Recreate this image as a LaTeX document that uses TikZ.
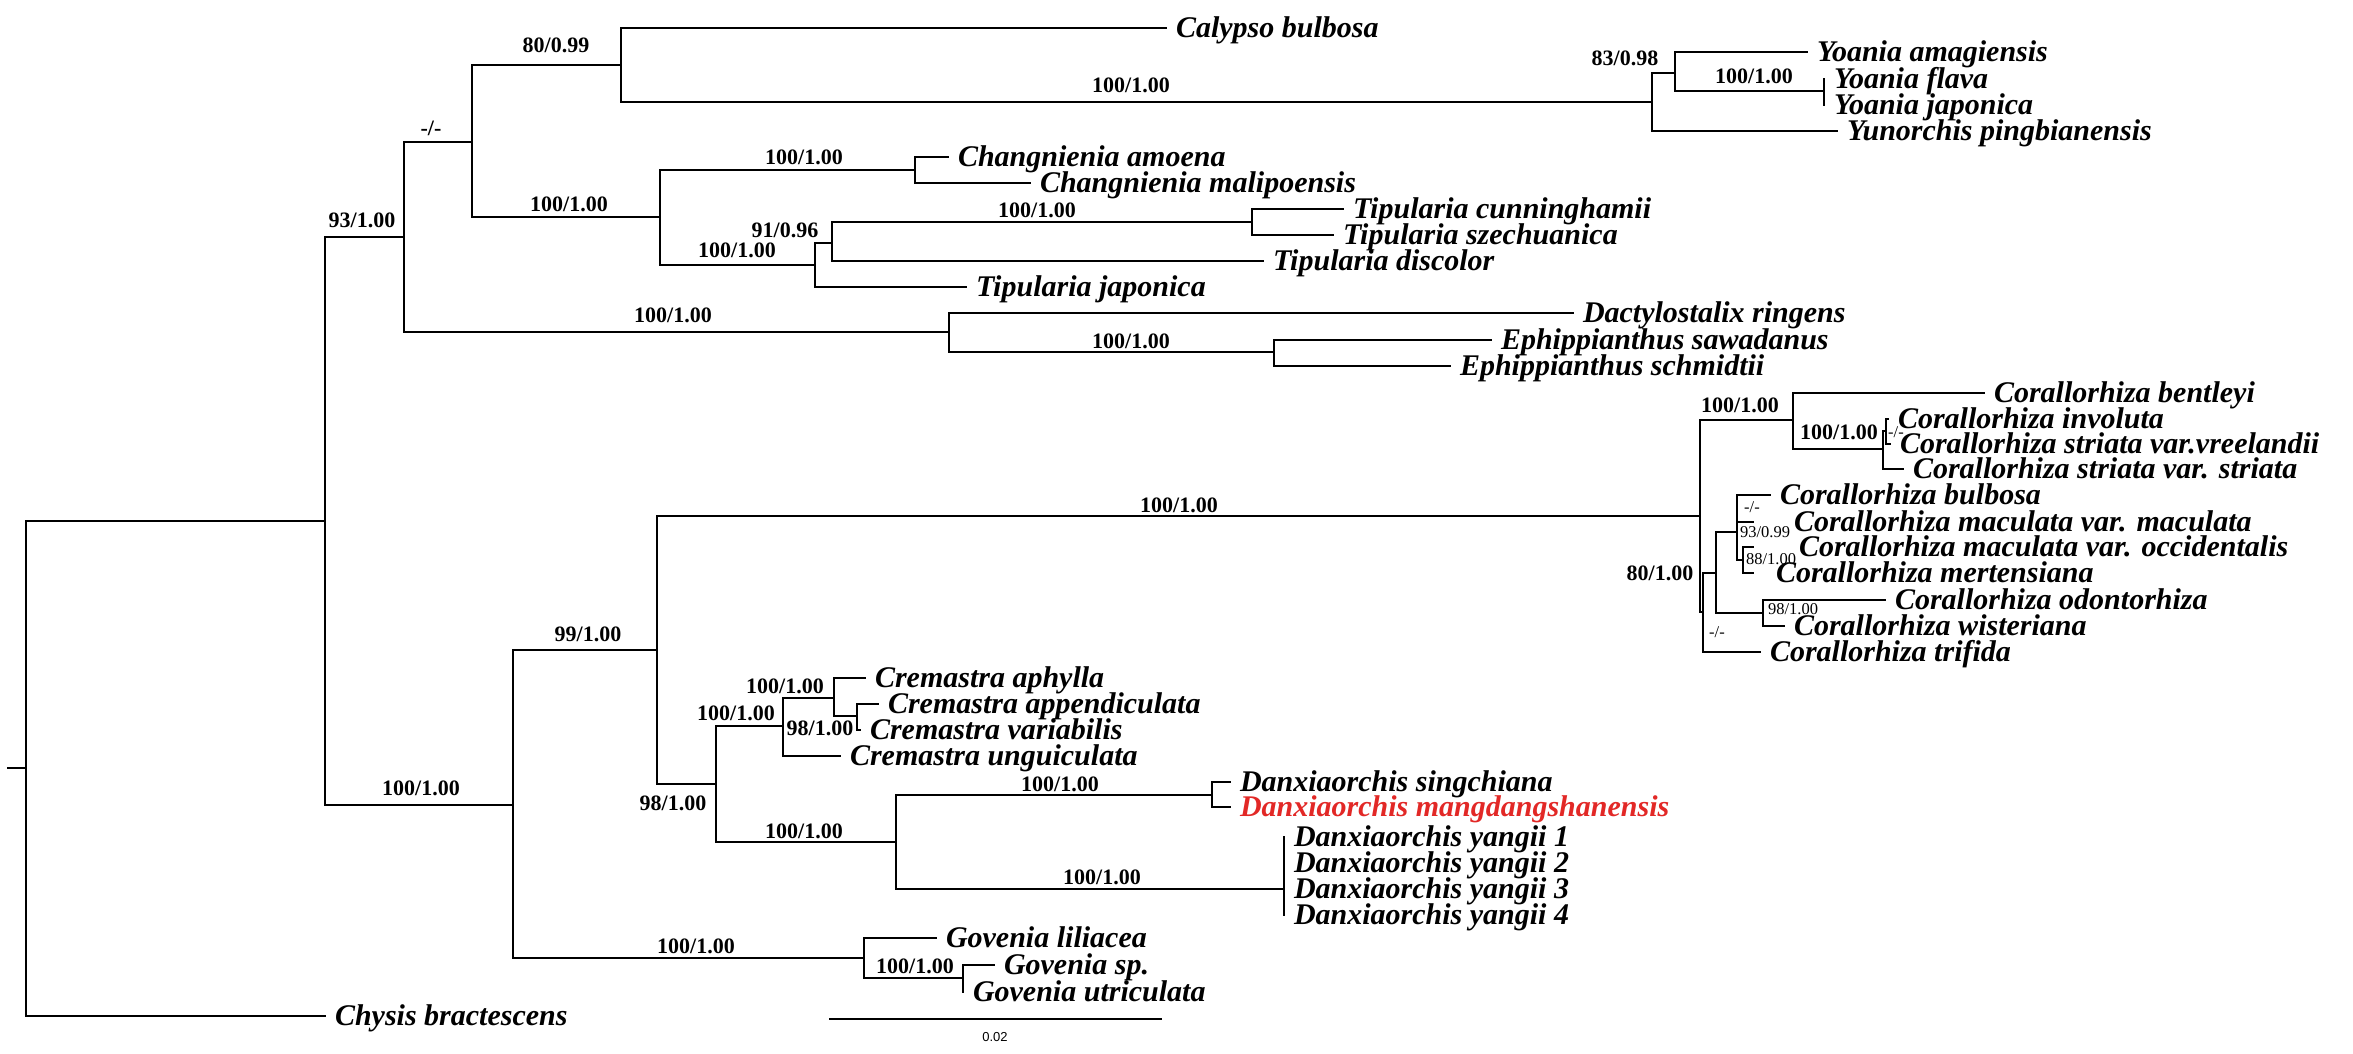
\documentclass[tikz,border=0pt]{standalone}
\usepackage{fontspec}
\setmainfont{Liberation Serif}
\newfontfamily\barfont{Liberation Sans}
\usepackage{tikz}
\definecolor{newsp}{RGB}{226,40,38}
\tikzset{
  branch/.style={line width=2pt, line cap=rect},
  leaf/.style={anchor=west, inner xsep=9pt, inner ysep=0pt, text height=22pt, text depth=4pt, font=\fontsize{30}{32}\selectfont\bfseries\itshape},
  supp/.style={inner sep=0pt, text height=15pt, text depth=0pt, font=\fontsize{22}{24}\selectfont\bfseries},
  suppsm/.style={inner sep=0pt, text height=11pt, text depth=0pt, font=\fontsize{16.5}{18}\selectfont},
}

\begin{document}
\begin{tikzpicture}[x=1pt, y=-1pt, branch]
      \useasboundingbox (0,0) rectangle (2353,1053);

      \coordinate (nrootstem) at (8,768);
      \coordinate (nroot) at (26,768);
      \coordinate (ning) at (325,521);
      \coordinate (n93) at (404,237);
      \coordinate (nu) at (472,142);
      \coordinate (n80) at (621,65);
      \coordinate (nyoa) at (1652,102);
      \coordinate (n83) at (1675,73);
      \coordinate (nyfj) at (1824,91);
      \coordinate (nct) at (660,217);
      \coordinate (nchg) at (915,170);
      \coordinate (ntip) at (815,265);
      \coordinate (n91) at (832,243);
      \coordinate (ntcs) at (1252,222);
      \coordinate (ndac) at (949,332);
      \coordinate (neph) at (1274,352);
      \coordinate (nlow) at (513,805);
      \coordinate (n99) at (657,650);
      \coordinate (ncor) at (1700,516);
      \coordinate (ncbc) at (1793,420);
      \coordinate (ncsv) at (1883,449);
      \coordinate (nciv) at (1886,431);
      \coordinate (ncda) at (1703,612);
      \coordinate (ncmi) at (1716,573);
      \coordinate (ncbu) at (1737,532);
      \coordinate (ncmo) at (1743,560);
      \coordinate (nc98) at (1763,613);
      \coordinate (n98) at (716,784);
      \coordinate (ncre) at (783,726);
      \coordinate (ncri) at (834,698);
      \coordinate (ncr98) at (857,716);
      \coordinate (ndan) at (896,842);
      \coordinate (ndsm) at (1212,795);
      \coordinate (nyan) at (1284,889);
      \coordinate (ngov) at (864,958);
      \coordinate (ngsu) at (963,978);

      \node[leaf] (chysis) at (325,1016) {Chysis bractescens};
      \node[leaf] (calypso) at (1166,28) {Calypso bulbosa};
      \node[leaf] (yama) at (1807,52) {Yoania amagiensis};
      \node[leaf] (yfla) at (1824,79) {Yoania flava};
      \node[leaf] (yjap) at (1824,105) {Yoania japonica};
      \node[leaf] (yunn) at (1837,131) {Yunorchis pingbianensis};
      \node[leaf] (camo) at (948,157) {Changnienia amoena};
      \node[leaf] (cmal) at (1030,183) {Changnienia malipoensis};
      \node[leaf] (tcun) at (1343,209) {Tipularia cunninghamii};
      \node[leaf] (tsze) at (1333,235) {Tipularia szechuanica};
      \node[leaf] (tdis) at (1263,261) {Tipularia discolor};
      \node[leaf] (tjap) at (966,287) {Tipularia japonica};
      \node[leaf] (drin) at (1573,313) {Dactylostalix ringens};
      \node[leaf] (esaw) at (1491,340) {Ephippianthus sawadanus};
      \node[leaf] (esch) at (1450,366) {Ephippianthus schmidtii};
      \node[leaf] (cben) at (1984,393) {Corallorhiza bentleyi};
      \node[leaf] (cinv) at (1888,419) {Corallorhiza involuta};
      \node[leaf] (cvre) at (1890,444) {Corallorhiza striata var.vreelandii};
      \node[leaf] (cstr) at (1903,469) {Corallorhiza striata var. striata};
      \node[leaf] (cbul) at (1770,495) {Corallorhiza bulbosa};
      \node[leaf, inner xsep=40pt] (cmac) at (1753,522) {Corallorhiza maculata var. maculata};
      \node[leaf, inner xsep=45pt] (cocc) at (1753,547) {Corallorhiza maculata var. occidentalis};
      \node[leaf, inner xsep=22pt] (cmer) at (1753,573) {Corallorhiza mertensiana};
      \node[leaf] (codo) at (1885,600) {Corallorhiza odontorhiza};
      \node[leaf] (cwis) at (1784,626) {Corallorhiza wisteriana};
      \node[leaf] (ctri) at (1760,652) {Corallorhiza trifida};
      \node[leaf] (crap) at (865,678) {Cremastra aphylla};
      \node[leaf] (crpp) at (878,704) {Cremastra appendiculata};
      \node[leaf] (crva) at (860,730) {Cremastra variabilis};
      \node[leaf] (crun) at (840,756) {Cremastra unguiculata};
      \node[leaf] (dsin) at (1230,782) {Danxiaorchis singchiana};
      \node[leaf, text=newsp] (dman) at (1230,807) {Danxiaorchis mangdangshanensis};
      \node[leaf] (dya1) at (1284,837) {Danxiaorchis yangii 1};
      \node[leaf] (dya2) at (1284,863) {Danxiaorchis yangii 2};
      \node[leaf] (dya3) at (1284,889) {Danxiaorchis yangii 3};
      \node[leaf] (dya4) at (1284,915) {Danxiaorchis yangii 4};
      \node[leaf] (glil) at (936,938) {Govenia liliacea};
      \node[leaf] (gsp) at (994,965) {Govenia sp.};
      \node[leaf] (gutr) at (963,992) {Govenia utriculata};

      \draw (nrootstem) -- (nroot);
      \draw (nroot) |- (ning) (nroot) |- (chysis);
      \draw (ning) |- (n93) (ning) |- (nlow);
      \draw (n93) |- (nu) (n93) |- (ndac);
      \draw (nu) |- (n80) (nu) |- (nct);
      \draw (n80) |- (calypso) (n80) |- (nyoa);
      \draw (nyoa) |- (n83) (nyoa) |- (yunn);
      \draw (n83) |- (yama) (n83) |- (nyfj);
      \draw (nyfj) |- (yfla) (nyfj) |- (yjap);
      \draw (nct) |- (nchg) (nct) |- (ntip);
      \draw (nchg) |- (camo) (nchg) |- (cmal);
      \draw (ntip) |- (n91) (ntip) |- (tjap);
      \draw (n91) |- (ntcs) (n91) |- (tdis);
      \draw (ntcs) |- (tcun) (ntcs) |- (tsze);
      \draw (ndac) |- (drin) (ndac) |- (neph);
      \draw (neph) |- (esaw) (neph) |- (esch);
      \draw (nlow) |- (n99) (nlow) |- (ngov);
      \draw (n99) |- (ncor) (n99) |- (n98);
      \draw (ncor) |- (ncbc) (ncor) |- (ncda);
      \draw (ncbc) |- (cben) (ncbc) |- (ncsv);
      \draw (ncsv) |- (nciv) (ncsv) |- (cstr);
      \draw (nciv) |- (cinv) (nciv) |- (cvre);
      \draw (ncda) |- (ncmi) (ncda) |- (ctri);
      \draw (ncmi) |- (ncbu) (ncmi) |- (nc98);
      \draw (ncbu) |- (cbul) (ncbu) |- (cmac) (ncbu) |- (ncmo);
      \draw (ncmo) |- (cocc) (ncmo) |- (cmer);
      \draw (nc98) |- (codo) (nc98) |- (cwis);
      \draw (n98) |- (ncre) (n98) |- (ndan);
      \draw (ncre) |- (ncri) (ncre) |- (crun);
      \draw (ncri) |- (crap) (ncri) |- (ncr98);
      \draw (ncr98) |- (crpp) (ncr98) |- (crva);
      \draw (ndan) |- (ndsm) (ndan) |- (nyan);
      \draw (ndsm) |- (dsin) (ndsm) |- (dman);
      \draw (nyan) |- (dya1) (nyan) |- (dya2) (nyan) |- (dya3) (nyan) |- (dya4);
      \draw (ngov) |- (glil) (ngov) |- (ngsu);
      \draw (ngsu) |- (gsp) (ngsu) |- (gutr);

      \node[supp] (s93) at (362,220) {93/1.00};
      \node[supp] (su) at (431,128) {-/-};
      \node[supp] (s80) at (556,45) {80/0.99};
      \node[supp] (syoa) at (1131,85) {100/1.00};
      \node[supp] (s83) at (1625,58) {83/0.98};
      \node[supp] (syfj) at (1754,76) {100/1.00};
      \node[supp] (sct) at (569,204) {100/1.00};
      \node[supp] (schg) at (804,157) {100/1.00};
      \node[supp] (stip) at (737,250) {100/1.00};
      \node[supp] (s91) at (785,230) {91/0.96};
      \node[supp] (stcs) at (1037,210) {100/1.00};
      \node[supp] (sdac) at (673,315) {100/1.00};
      \node[supp] (seph) at (1131,341) {100/1.00};
      \node[supp] (slow) at (421,788) {100/1.00};
      \node[supp] (s99) at (588,634) {99/1.00};
      \node[supp] (scor) at (1179,505) {100/1.00};
      \node[supp] (sca) at (1660,573) {80/1.00};
      \node[supp] (scbc) at (1740,405) {100/1.00};
      \node[supp] (scsv) at (1839,432) {100/1.00};
      \node[suppsm] (sciv) at (1896,432) {-/-};
      \node[suppsm] (scda) at (1717,632) {-/-};
      \node[suppsm] (scbu) at (1752,507) {-/-};
      \node[suppsm] (scmm) at (1765,532) {93/0.99};
      \node[suppsm] (scmo) at (1771,559) {88/1.00};
      \node[suppsm] (sc98) at (1793,609) {98/1.00};
      \node[supp] (s98) at (673,803) {98/1.00};
      \node[supp] (scre) at (736,713) {100/1.00};
      \node[supp] (scri) at (785,686) {100/1.00};
      \node[supp] (scr98) at (820,728) {98/1.00};
      \node[supp] (sdan) at (804,831) {100/1.00};
      \node[supp] (sdsm) at (1060,784) {100/1.00};
      \node[supp] (syan) at (1102,877) {100/1.00};
      \node[supp] (sgov) at (696,946) {100/1.00};
      \node[supp] (sgsu) at (915,966) {100/1.00};

      \coordinate (sbl) at (830,1019);
      \coordinate (sbr) at (1161,1019);
      \draw (sbl) -- (sbr);
      \node[inner sep=0pt, font=\barfont\fontsize{13}{14}\selectfont] (sbtext) at (995,1037) {0.02};
    \end{tikzpicture}
\end{document}
